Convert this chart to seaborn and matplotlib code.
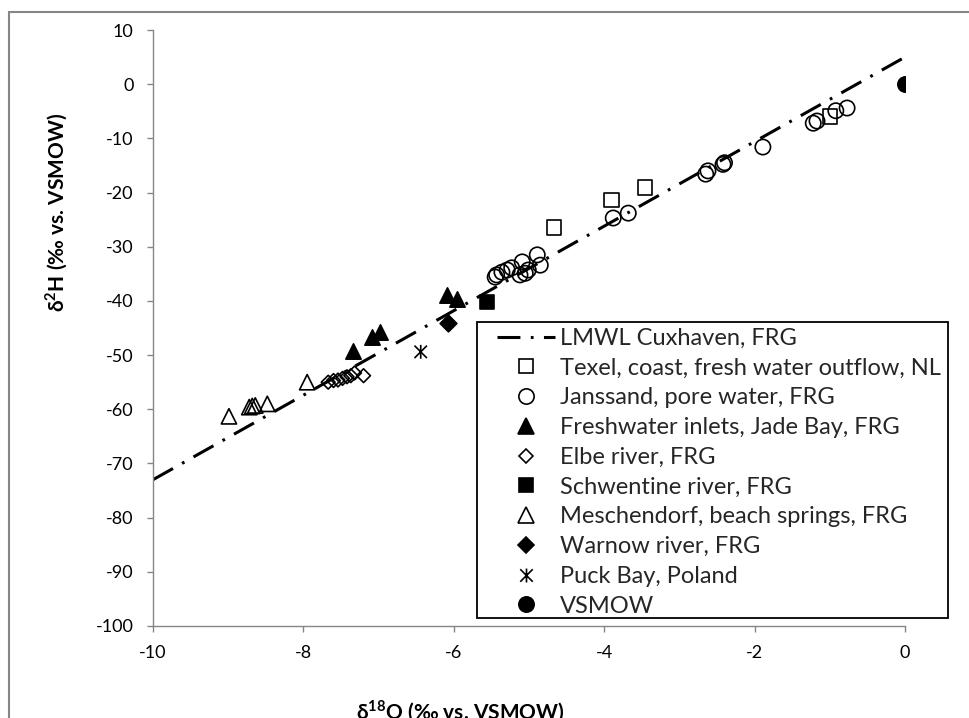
import numpy as np
import pandas as pd
import matplotlib
matplotlib.use("Agg")
import matplotlib.pyplot as plt
from matplotlib.lines import Line2D
from matplotlib.path import Path
from matplotlib.patches import Rectangle
import seaborn as sns

# ---- data: delta-18O (x) and delta-2H (y), permil vs. VSMOW ----
texel_x = [-4.67, -3.90, -3.46, -1.00]
texel_y = [-26.5, -21.4, -19.1, -6.0]

janssand_x = [-0.77, -0.92, -1.17, -1.22, -1.89, -2.42, -2.40, -2.62, -2.65,
              -3.68, -3.88, -4.85, -4.89, -5.01, -5.09, -5.05, -5.12, -5.23,
              -5.29, -5.36, -5.43, -5.45]
janssand_y = [-4.4, -4.9, -6.8, -7.2, -11.6, -14.8, -14.5, -16.0, -16.6,
              -23.8, -24.7, -33.4, -31.5, -34.3, -32.8, -34.9, -35.2, -33.9,
              -34.3, -34.7, -35.2, -35.6]

jade_x = [-7.34, -7.09, -6.98, -6.09, -5.96]
jade_y = [-49.2, -46.6, -45.8, -38.9, -39.6]

elbe_x = [-7.67, -7.60, -7.54, -7.48, -7.42, -7.37, -7.32, -7.20]
elbe_y = [-55.0, -54.7, -54.6, -54.3, -54.0, -53.8, -53.3, -53.8]

schwentine_x = [-5.56]
schwentine_y = [-40.2]

mesch_x = [-8.99, -8.72, -8.68, -8.64, -8.48, -7.95]
mesch_y = [-61.3, -59.6, -59.4, -59.3, -59.0, -55.0]

warnow_x = [-6.08]
warnow_y = [-44.1]

puck_x = [-6.44]
puck_y = [-49.4]

vsmow_x = [0.0]
vsmow_y = [0.0]

# local meteoric water line (Cuxhaven): dH = slope * dO + intercept
lmwl_slope = 7.8
lmwl_intercept = 5.0
lmwl_x = [-10.0, 0.0]

labels = ["LMWL Cuxhaven, FRG",
          "Texel, coast, fresh water outflow, NL",
          "Janssand, pore water, FRG",
          "Freshwater inlets, Jade Bay, FRG",
          "Elbe river, FRG",
          "Schwentine river, FRG",
          "Meschendorf, beach springs, FRG",
          "Warnow river, FRG",
          "Puck Bay, Poland",
          "VSMOW"]

x_ticks = [-10, -8, -6, -4, -2, 0]
y_ticks = list(range(-100, 11, 10))

# ---- styling ----
sns.set_theme(style="white")
plt.rcParams["font.family"] = ["Lato", "DejaVu Sans"]
plt.rcParams["axes.unicode_minus"] = False
plt.rcParams["mathtext.fontset"] = "custom"
plt.rcParams["mathtext.rm"] = "Lato"
plt.rcParams["mathtext.bf"] = "Lato:bold"

W, H = 969, 718
fig = plt.figure(figsize=(W / 100, H / 100), dpi=100)
ax = fig.add_axes([153 / W, 1 - 626 / H, (905 - 153) / W, (626 - 30) / H])

# asterisk: vertical bar plus a diagonal cross
star_path = Path([(0, -1), (0, 1), (-0.9, -0.9), (0.9, 0.9), (-0.9, 0.9), (0.9, -0.9)],
                 [Path.MOVETO, Path.LINETO] * 3)

dash_style = (0, (7.5, 3.4, 0.9, 3.4))
lmwl_df = pd.DataFrame({"x": lmwl_x,
                        "y": [lmwl_slope * v + lmwl_intercept for v in lmwl_x]})
sns.lineplot(data=lmwl_df, x="x", y="y", ax=ax, color="black", linewidth=2.2,
             linestyle=dash_style, zorder=2)

series = [
    (texel_x, texel_y, "s", 10.5, "none"),
    (janssand_x, janssand_y, "o", 11, "none"),
    (jade_x, jade_y, "^", 11, "black"),
    (elbe_x, elbe_y, "D", 7, "none"),
    (schwentine_x, schwentine_y, "s", 10.5, "black"),
    (mesch_x, mesch_y, "^", 11, "none"),
    (warnow_x, warnow_y, "D", 8.5, "black"),
    (puck_x, puck_y, star_path, 10, "none"),
    (vsmow_x, vsmow_y, "o", 11, "black"),
]
for xs, ys, mk, ms, fc in series:
    sns.scatterplot(x=xs, y=ys, ax=ax, marker=mk, s=ms ** 2,
                    facecolor=fc, edgecolor="black", linewidth=1.2, zorder=3)

ax.set_xlim(-10, 0)
ax.set_ylim(-100, 10)
ax.set_xticks(x_ticks)
ax.set_yticks(y_ticks)
ax.set_xticklabels([str(t) for t in x_ticks])
ax.set_yticklabels([str(t) for t in y_ticks])
ax.set_xlabel("")
ax.set_ylabel("")

axis_grey = "#868686"
for side in ["top", "right"]:
    ax.spines[side].set_visible(False)
for side in ["left", "bottom"]:
    ax.spines[side].set_color(axis_grey)
    ax.spines[side].set_linewidth(1.0)
ax.tick_params(axis="both", which="major", direction="out", length=4,
               width=1.0, color=axis_grey, labelsize=13, labelcolor="black")
ax.tick_params(axis="x", pad=10, bottom=True)
ax.tick_params(axis="y", pad=10, left=True)
ax.set_facecolor("white")

# axis titles
fig.text(460 / W, 1 - 712 / H, r"δ$^{\mathbf{18}}$O (‰ vs. VSMOW)", ha="center", va="center",
         fontsize=15, fontweight="bold", color="black")
fig.text(57 / W, 1 - 212 / H, r"δ$^{\mathbf{2}}$H (‰ vs. VSMOW)", ha="center", va="center",
         rotation=90, fontsize=15, fontweight="bold", color="black")

# legend: entries placed without a frame, box drawn separately underneath
handles = [Line2D([], [], color="black", linewidth=2.2, linestyle=dash_style)]
for xs, ys, mk, ms, fc in series:
    handles.append(Line2D([], [], linestyle="none", marker=mk, markersize=ms,
                          markerfacecolor=fc, markeredgecolor="black",
                          markeredgewidth=1.2))
leg = ax.legend(handles, labels, loc="upper left",
                bbox_to_anchor=(497 / W, 1 - 328 / H), bbox_transform=fig.transFigure,
                borderaxespad=0, borderpad=0, fontsize=17, frameon=False,
                handlelength=2.45, handletextpad=0.2, labelspacing=0.37)
leg.set_zorder(6)
ax.add_patch(Rectangle((477 / W, 1 - 618 / H), (948 - 477) / W, (618 - 322) / H,
                       transform=fig.transFigure, facecolor="white",
                       edgecolor="black", linewidth=1.3, zorder=5, clip_on=False))

# chart-area border
fig.add_artist(Rectangle((9 / W, -0.1), 1.2, 1.1 - 12 / H, transform=fig.transFigure,
                         fill=False, edgecolor=axis_grey, linewidth=1.5))

fig.savefig("out.png", dpi=100, facecolor="white")
